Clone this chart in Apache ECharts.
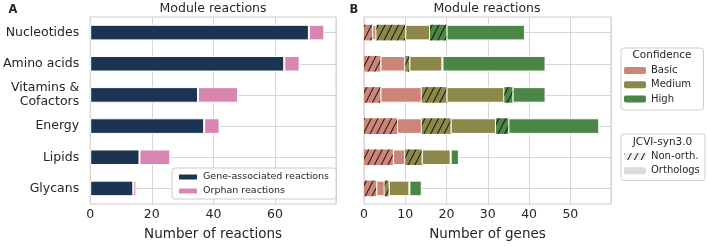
<!DOCTYPE html>
<html>
<head>
<meta charset="utf-8">
<script src="https://cdn.jsdelivr.net/npm/echarts@6/dist/echarts.min.js"></script>
<style>
  html, body { margin: 0; padding: 0; background: #fff; }
  #chart { width: 708px; height: 246px; }
</style>
</head>
<body>
<div id="chart"></div>
<script>
// categories (top to bottom)
const categories = ['Nucleotides', 'Amino acids', 'Vitamins &\nCofactors', 'Energy', 'Lipids', 'Glycans'];

// panel A: number of reactions
const geneAssociated = [71, 63, 35, 37, 16, 14];
const orphan = [5, 5, 13, 5, 10, 1];

// panel B: number of genes, by confidence, non-orthologs / orthologs
const basicNonOrth = [2, 4, 4, 8, 7, 3];
const basicOrth = [1, 6, 10, 6, 3, 2];
const mediumNonOrth = [7, 1, 6, 7, 4, 1];
const mediumOrth = [6, 8, 14, 11, 7, 5];
const highNonOrth = [4, 0, 2, 3, 0, 0];
const highOrth = [19, 25, 8, 22, 2, 3];

const ticksA = [0, 20, 40, 60];
const ticksB = [0, 10, 20, 30, 40, 50];

const FONT = 'DejaVu Sans';
const TXT = '#262626';
const GRIDC = '#d6d6d6';

const cBasic = '#cc8579';
const cMedium = '#8b8849';
const cHigh = '#4b8646';
const hatch = {
    symbol: 'rect',
    symbolSize: 1,
    dashArrayX: [1, 0],
    dashArrayY: [1, 5],
    rotation: -1.1,
    color: 'rgba(15,10,5,0.9)'
};

const myChart = echarts.init(document.getElementById('chart'));

function valueAxis(idx, max, interval, name) {
    return {
        type: 'value', gridIndex: idx, min: 0, max: max, interval: interval,
        name: name, nameLocation: 'middle', nameGap: 23,
        nameTextStyle: { fontFamily: FONT, fontSize: 13.5, color: TXT },
        axisLine: { show: false }, axisTick: { show: false },
        axisLabel: { fontFamily: FONT, fontSize: 12.5, color: TXT, margin: 4, showMaxLabel: false },
        splitLine: { lineStyle: { color: GRIDC, width: 1 } }
    };
}
function catAxis(idx, showLabels) {
    return {
        type: 'category', gridIndex: idx, data: categories, inverse: true,
        axisLine: { show: false }, axisTick: { show: false },
        axisLabel: { show: showLabels, fontFamily: FONT, fontSize: 12.5, color: TXT, margin: 11, lineHeight: 13.5, align: 'right' },
        splitLine: { show: true, alignWithLabel: true, lineStyle: { color: GRIDC, width: 1 } }
    };
}
function barB(name, data, color, hatched) {
    return {
        name: name, type: 'bar', stack: 'b', xAxisIndex: 1, yAxisIndex: 1,
        barWidth: '50%', data: data,
        itemStyle: hatched
            ? { color: color, decal: hatch }
            : { color: color, borderColor: '#fff', borderWidth: 1 }
    };
}
function dummy(name, color, hatched) {
    return {
        name: name, type: 'bar', stack: 'b', xAxisIndex: 1, yAxisIndex: 1, data: [],
        itemStyle: hatched ? { color: color, decal: hatch } : { color: color }
    };
}

const legendText = { fontFamily: FONT, fontSize: 10, color: TXT, lineHeight: 12 };
const heading = (t, x, y, size, weight) => ({
    type: 'text', x: x, y: y, z: 2,
    style: {
        text: t, font: (weight || '') + ' ' + size + 'px ' + FONT, fill: TXT,
        textAlign: 'center', textVerticalAlign: 'middle', align: 'center', verticalAlign: 'middle'
    }
});

const option = {
    animation: false,
    grid: [
        { left: 90, top: 17, width: 246, height: 187, show: true, borderColor: '#cccccc', borderWidth: 1 },
        { left: 364, top: 17, width: 247, height: 187, show: true, borderColor: '#cccccc', borderWidth: 1 }
    ],
    xAxis: [
        valueAxis(0, 79.8, ticksA[1] - ticksA[0], 'Number of reactions'),
        valueAxis(1, 59.85, ticksB[1] - ticksB[0], 'Number of genes')
    ],
    yAxis: [catAxis(0, true), catAxis(1, false)],
    legend: [
        {
            data: ['Gene-associated reactions', 'Orphan reactions'],
            orient: 'vertical', left: 172, top: 168, itemWidth: 20, itemHeight: 7, itemGap: 2,
            padding: [3, 7, 2, 5], backgroundColor: '#fff', borderColor: '#cccccc', borderWidth: 1, borderRadius: 3,
            textStyle: { fontFamily: FONT, fontSize: 9.5, color: TXT, lineHeight: 12 }, z: 10
        },
        {
            data: ['Basic', 'Medium', 'High'],
            orient: 'vertical', left: 624, top: 64.5, itemWidth: 22, itemHeight: 7, itemGap: 2.3,
            padding: 0, textStyle: legendText, z: 10
        },
        {
            data: ['Non-orth.', 'Orthologs'],
            orient: 'vertical', left: 624, top: 150.5, itemWidth: 22, itemHeight: 7, itemGap: 2.3,
            padding: 0, textStyle: legendText, z: 10
        }
    ],
    graphic: [
        { type: 'rect', left: 620.5, top: 47.5, shape: { width: 82.5, height: 62, r: 3 }, style: { fill: '#fff', stroke: '#cccccc', lineWidth: 1 }, z: 1 },
        { type: 'rect', left: 620.5, top: 133.5, shape: { width: 84, height: 46.5, r: 3 }, style: { fill: '#fff', stroke: '#cccccc', lineWidth: 1 }, z: 1 },
        heading('Confidence', 662, 55.5, 10.5),
        heading('JCVI-syn3.0', 662.5, 142, 10.5),
        heading('Module reactions', 213, 8.5, 12.5),
        heading('Module reactions', 487, 8.5, 12.5),
        heading('A', 13, 10, 11.5, 'bold'),
        heading('B', 354, 10, 11.5, 'bold')
    ],
    series: [
        {
            name: 'Gene-associated reactions', type: 'bar', stack: 'a', xAxisIndex: 0, yAxisIndex: 0,
            barWidth: '50%', data: geneAssociated,
            itemStyle: { color: '#1b3452', borderColor: '#fff', borderWidth: 1 }
        },
        {
            name: 'Orphan reactions', type: 'bar', stack: 'a', xAxisIndex: 0, yAxisIndex: 0,
            barWidth: '50%', data: orphan,
            itemStyle: { color: '#d886b1', borderColor: '#fff', borderWidth: 1 }
        },
        barB('Basic non-orth.', basicNonOrth, cBasic, true),
        barB('Basic orth.', basicOrth, cBasic, false),
        barB('Medium non-orth.', mediumNonOrth, cMedium, true),
        barB('Medium orth.', mediumOrth, cMedium, false),
        barB('High non-orth.', highNonOrth, cHigh, true),
        barB('High orth.', highOrth, cHigh, false),
        dummy('Basic', cBasic, false),
        dummy('Medium', cMedium, false),
        dummy('High', cHigh, false),
        dummy('Non-orth.', '#eeeeee', true),
        dummy('Orthologs', '#dcdcdc', false)
    ]
};
myChart.setOption(option);
window.addEventListener('resize', function () {
    myChart.resize();
});
</script>
</body>
</html>
